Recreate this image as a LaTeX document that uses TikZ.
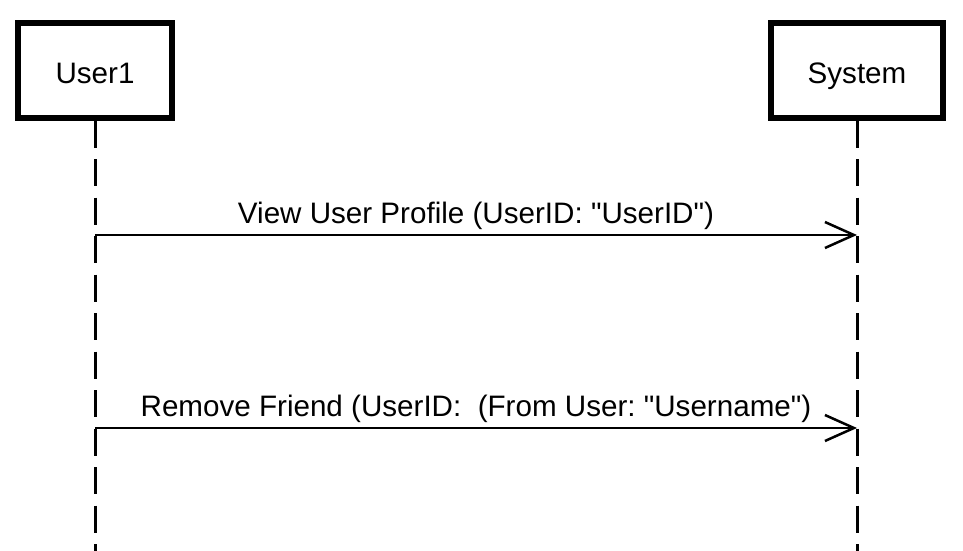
\documentclass[tikz,border=0pt]{standalone}
\usepackage{fontspec}
\setmainfont{Liberation Sans}
\usetikzlibrary{arrows.meta}
\frenchspacing
\begin{document}
\begin{tikzpicture}[x=1pt,y=-1pt,
  actor/.style={draw, line width=6pt, minimum height=94pt, inner sep=0pt,
    text height=25.6pt, text depth=0pt,
    font=\fontsize{29.6}{34}\selectfont},
  lifeline/.style={line width=3pt, dash pattern=on 27pt off 11.5pt},
  msg/.style={line width=2.5pt, -{Straight Barb[length=29pt,width=26pt]}},
  msglabel/.style={anchor=base, yshift=12pt, inner sep=0pt,
    font=\fontsize{29.6}{34}\selectfont}]
\useasboundingbox (0,0) rectangle (963,551);
\node[actor, minimum width=154pt] (u1) at (95,70.5) {User1};
\node[actor, minimum width=172pt] (sys) at (857,70.5) {System};
\coordinate (u1end) at (95,551);
\coordinate (sysend) at (857,551);
\draw[lifeline] (u1.south) -- (u1end);
\draw[lifeline] (sys.south) -- (sysend);
\coordinate (m1a) at (95,235);
\coordinate (m1b) at (857,235);
\coordinate (m2a) at (95,428);
\coordinate (m2b) at (857,428);
\draw[msg] (m1a) -- node[msglabel] {View User Profile (UserID: \textquotedbl UserID\textquotedbl)} (m1b);
\draw[msg] (m2a) -- node[msglabel] {Remove Friend (UserID:\ \ (From User: \textquotedbl Username\textquotedbl)} (m2b);
\end{tikzpicture}
\end{document}
